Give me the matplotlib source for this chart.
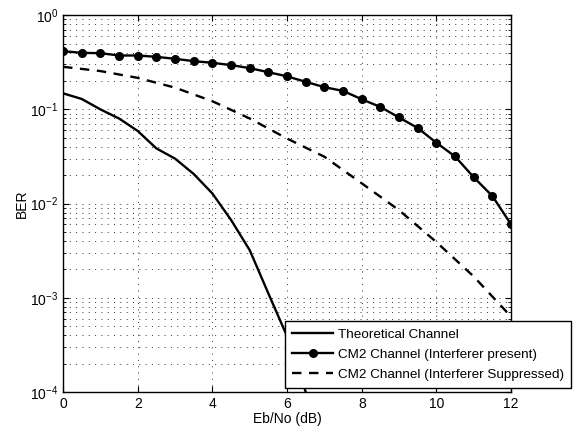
import matplotlib
matplotlib.use("Agg")
import matplotlib.pyplot as plt
import numpy as np

plt.rcParams['font.family'] = ['Liberation Sans', 'DejaVu Sans']
plt.rcParams['mathtext.default'] = 'regular'

# Eb/No の値 (dB)
ebno = [0, 0.5, 1, 1.5, 2, 2.5, 3, 3.5, 4, 4.5, 5, 5.5, 6,
        6.5, 7, 7.5, 8, 8.5, 9, 9.5, 10, 10.5, 11, 11.5, 12]

# 理論チャネル
ebno_theory = [0, 0.5, 1, 1.5, 2, 2.5, 3, 3.5, 4, 4.5, 5, 5.5, 6, 6.5, 7]
ber_theory = [0.148, 0.129, 0.100, 0.080, 0.059, 0.0385, 0.030, 0.0206,
              0.0128, 0.0067, 0.0032, 0.00111, 0.00039, 0.0001, 0.00002]

# CM2 チャネル (干渉あり)
ber_present = [0.415, 0.398, 0.395, 0.373, 0.373, 0.361, 0.344, 0.325,
               0.312, 0.295, 0.274, 0.248, 0.224, 0.196, 0.172, 0.157,
               0.128, 0.106, 0.082, 0.0633, 0.0442, 0.0316, 0.019, 0.012, 0.006]

# CM2 チャネル (干渉抑圧)
ebno_supp = [0, 1, 2, 3, 4, 5, 6, 7, 8, 9, 10, 11, 12]
ber_supp = [0.283, 0.255, 0.216, 0.170, 0.122, 0.080, 0.049, 0.0314,
            0.0164, 0.0085, 0.0039, 0.00168, 0.00063]

fig = plt.figure(figsize=(5.73, 4.33), dpi=100)
ax = fig.add_axes([0.110, 0.0947, 0.782, 0.8703])

ax.semilogy(ebno_theory, ber_theory, 'k-', lw=1.7, label='Theoretical Channel')
ax.semilogy(ebno, ber_present, 'k-', marker='o', ms=5.5, lw=1.7,
            label='CM2 Channel (Interferer present)')
ax.semilogy(ebno_supp, ber_supp, 'k--', lw=1.7, dashes=(4.0, 3.2),
            label='CM2 Channel (Interferer Suppressed)')

ax.set_xlim(0, 12)
ax.set_ylim(1e-4, 1)
ax.set_xticks([0, 2, 4, 6, 8, 10, 12])
grid_style = dict(ls=(0, (1, 5.5)), color='0.2', lw=0.7)
ax.grid(True, which='major', **grid_style)
ax.grid(True, which='minor', axis='y', **grid_style)
ax.tick_params(which='major', direction='in', top=True, right=True,
               labelsize=10, length=4)
ax.tick_params(which='minor', direction='in', top=True, right=True, length=2.5)
for s in ax.spines.values():
    s.set_linewidth(1.0)

ax.set_xlabel('Eb/No (dB)', fontsize=10, labelpad=1)
ax.set_ylabel('BER', fontsize=10, labelpad=1)

leg = ax.legend(loc='upper left', bbox_to_anchor=(285 / 573, 1 - 321 / 433),
                bbox_transform=fig.transFigure, fontsize=9.7, fancybox=False,
                framealpha=1, edgecolor='k', borderpad=0.55, labelspacing=0.57,
                handlelength=3.0, handletextpad=0.37, borderaxespad=0)
leg.get_frame().set_linewidth(1.0)

fig.savefig('out.png', dpi=100)
